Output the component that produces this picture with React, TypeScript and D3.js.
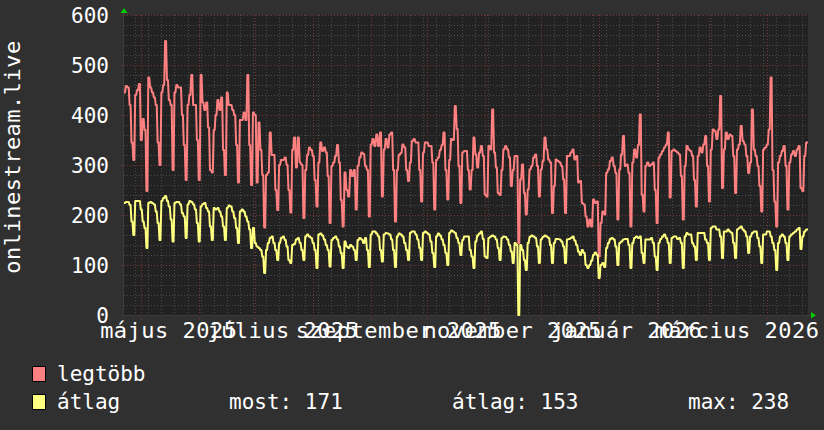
import React from "react";
import * as d3 from "d3";

// ---- data (daily, starting 2025-04-22) ----
const startDate = new Date(Date.UTC(2025, 3, 22));
const endDate = new Date(Date.UTC(2026, 3, 23));

const legtobb = [
  445,458,455,420,345,310,440,
  450,462,350,392,370,248,475,
  455,445,435,420,345,300,445,
  460,548,470,430,420,290,445,
  460,455,455,400,340,270,420,
  440,480,420,420,350,270,480,
  425,410,425,375,290,285,370,
  400,430,410,435,330,280,445,
  420,420,410,400,340,265,390,
  390,405,390,480,340,260,405,
  400,265,385,330,280,175,280,
  285,365,320,320,250,210,300,
  310,310,315,300,250,205,330,
  355,295,355,305,300,194,290,
  320,335,330,318,270,217,305,
  345,328,335,325,278,184,298,
  305,318,340,305,230,177,285,
  250,237,290,278,290,211,298,
  315,325,322,298,290,197,341,
  352,338,361,338,365,237,331,
  352,335,361,365,290,187,290,
  320,324,341,335,290,268,305,
  348,352,345,345,290,227,325,
  345,345,338,338,305,211,310,
  315,330,340,365,290,231,310,
  352,350,418,372,298,224,325,
  328,328,290,251,290,355,321,
  295,325,338,318,241,237,338,
  331,411,325,295,244,240,290,
  331,338,331,315,258,290,318,
  318,144,271,301,244,201,251,
  291,298,315,321,298,237,291,
  308,355,331,311,305,204,258,
  311,308,305,298,271,204,318,
  318,325,331,311,318,265,268,
  224,221,197,177,191,177,231,
  224,227,117,184,207,201,284,
  291,308,315,298,284,191,291,
  321,358,298,301,284,177,305,
  331,315,340,401,241,207,298,
  305,298,301,305,250,184,314,
  321,328,335,341,365,235,328,
  331,328,325,321,278,191,298,
  338,331,328,318,270,217,318,
  335,325,341,358,298,227,331,
  371,368,352,371,438,254,331,
  365,352,361,358,318,244,331,
  341,378,348,341,318,284,305,
  411,331,318,298,258,207,331,
  335,341,371,475,290,227,177,
  305,318,328,338,298,211,305,
  321,328,318,331,338,254,248,
  318,345,
];

const atlag = [
  224,226,226,220,187,160,228,
  228,228,211,187,174,134,224,
  226,224,221,207,184,150,228,
  234,238,228,217,191,147,224,
  226,226,221,204,197,154,221,
  228,226,221,211,184,147,217,
  222,224,214,207,177,150,214,
  211,214,207,197,177,150,214,
  219,217,207,194,174,144,207,
  211,207,197,187,171,134,174,
  144,137,134,130,117,84,130,
  144,154,157,144,130,110,144,
  154,157,150,137,110,104,140,
  142,151,154,144,130,110,157,
  161,157,154,144,130,94,161,
  163,159,151,140,130,97,150,
  154,157,151,137,124,94,147,
  137,134,140,137,130,110,150,
  154,151,144,154,130,96,161,
  167,167,163,157,130,107,161,
  164,163,161,151,130,96,157,
  163,161,157,144,130,110,164,
  167,167,161,151,134,110,164,
  167,164,161,147,124,96,157,
  163,159,151,140,124,100,164,
  169,167,164,154,144,120,150,
  157,157,157,130,117,94,147,
  159,163,167,152,117,114,154,
  157,159,157,151,134,110,154,
  157,156,151,140,127,104,144,
  140,0,140,130,110,90,144,
  156,159,157,154,137,104,151,
  156,159,157,154,140,104,144,
  152,152,151,147,137,104,151,
  152,154,157,149,140,127,120,
  130,124,100,94,100,109,120,
  125,120,74,100,104,96,134,
  144,152,154,151,137,100,144,
  147,151,152,152,140,94,144,
  154,157,154,157,124,104,151,
  151,151,154,144,117,90,144,
  152,157,161,154,144,104,154,
  157,157,152,154,144,94,157,
  164,161,161,144,137,110,164,
  164,164,164,151,144,110,174,
  177,177,171,171,157,114,167,
  167,171,167,164,144,114,171,
  174,177,171,167,157,124,157,
  164,167,167,154,137,104,161,
  161,167,167,157,144,130,90,
  144,157,161,157,144,110,157,
  161,164,167,171,174,132,157,
  167,171,
];

const yTicks = [0, 100, 200, 300, 400, 500, 600];
const monthLabels = ["május 2025", "július 2025", "szeptember 2025", "november 2025", "január 2026", "március 2026"];
const labelMonthStarts = [
  new Date(Date.UTC(2025, 4, 1)),
  new Date(Date.UTC(2025, 6, 1)),
  new Date(Date.UTC(2025, 8, 1)),
  new Date(Date.UTC(2025, 10, 1)),
  new Date(Date.UTC(2026, 0, 1)),
  new Date(Date.UTC(2026, 2, 1)),
];
const seriesNames = ["legtöbb", "átlag"];
const seriesColors = ["#ff8080", "#ffff80"];
const statLabels = ["most: 171", "átlag: 153", "max: 238"];
const axisTitle = "onlinestream.live";

const FONT = "'DejaVu Sans Mono', monospace";

export default function App() {
  const W = 824, H = 430;
  const left = 124, right = 808, top = 15, bottom = 315;

  const x = d3.scaleUtc().domain([startDate, endDate]).range([left, right]);
  const y = d3.scaleLinear().domain([0, 600]).range([bottom, top]);

  // rrdtool-like rendering: flat for the day, ~1px slanted transition to the next day
  const toPts = (vals: number[]) => {
    const pts: [number, number][] = [];
    vals.forEach((v, i) => {
      const x0 = x(d3.utcDay.offset(startDate, i));
      const x1 = x(d3.utcDay.offset(startDate, i + 1));
      pts.push([x0, y(v)]);
      pts.push([i === vals.length - 1 ? x1 : x1 - 0.9, y(v)]);
    });
    return pts;
  };
  const line = d3.line<[number, number]>().x((d) => d[0]).y((d) => d[1]);

  const months = d3.utcMonth.range(d3.utcDay.offset(startDate, 1), endDate);
  const weeks = d3.utcMonday.range(startDate, endDate);
  const minorY = d3.range(0, 601, 20).filter((v) => v % 100 !== 0);

  const px = (v: number) => Math.round(v) + 0.5;

  return (
    <svg
      width={W}
      height={H}
      style={{ position: "absolute", left: 0, top: 0, display: "block" }}
      fontFamily={FONT}
    >
      <rect x={0} y={0} width={W} height={H} fill="#303030" />
      <rect x={left} y={top} width={right - left} height={bottom - top} fill="#222222" />

      {/* minor grid */}
      <g stroke="#4a4a4a" strokeWidth={1} strokeDasharray="1,2" shapeRendering="crispEdges">
        {weeks.map((w, i) => (
          <line key={"w" + i} x1={px(x(w))} x2={px(x(w))} y1={top} y2={bottom + 2} />
        ))}
        {minorY.map((v) => (
          <line key={"h" + v} x1={left} x2={right} y1={px(y(v))} y2={px(y(v))} />
        ))}
      </g>
      {/* major grid */}
      <g stroke="#7a3535" strokeWidth={1} strokeDasharray="1,2" shapeRendering="crispEdges">
        {months.map((m, i) => (
          <line key={"m" + i} x1={px(x(m))} x2={px(x(m))} y1={top} y2={bottom + 4} />
        ))}
        {yTicks.map((v) => (
          <line key={"M" + v} x1={left - 3} x2={right} y1={px(y(v))} y2={px(y(v))} />
        ))}
      </g>

      {/* axes */}
      <line x1={left - 0.5} x2={left - 0.5} y1={top - 3} y2={bottom + 3} stroke="#3c3c3c" />
      <line x1={left - 3} x2={right + 3} y1={bottom + 0.5} y2={bottom + 0.5} stroke="#3c3c3c" />
      <path d={`M${left - 3.5},13 L${left + 3.5},13 L${left},8 Z`} fill="#00cc00" />
      <path d={`M${right + 3},312 L${right + 3},318.5 L${right + 8},315.2 Z`} fill="#00cc00" />

      {/* series */}
      <path d={line(toPts(legtobb)) || ""} fill="none" stroke={seriesColors[0]} strokeWidth={2} strokeLinejoin="round" />
      <path d={line(toPts(atlag)) || ""} fill="none" stroke={seriesColors[1]} strokeWidth={2} strokeLinejoin="round" />

      {/* y tick labels */}
      <g fill="#ffffff" fontSize={21} textAnchor="end">
        {yTicks.map((v) => (
          <text key={"yl" + v} x={109} y={y(v) + 7.5}>
            {v}
          </text>
        ))}
      </g>

      {/* x labels */}
      <g fill="#ffffff" fontSize={22} letterSpacing={0.5} textAnchor="middle">
        {monthLabels.map((t, i) => (
          <text key={"xl" + i} x={x(d3.utcDay.offset(labelMonthStarts[i], 15))} y={338}>
            {t}
          </text>
        ))}
      </g>

      {/* y title */}
      <text
        transform={`translate(20,157) rotate(-90)`}
        textAnchor="middle"
        fill="#ffffff"
        fontSize={22}
        letterSpacing={0.5}
      >
        {axisTitle}
      </text>

      {/* legend */}
      <g fontSize={21} fill="#ffffff">
        <rect x={32.5} y={366.5} width={13} height={15} fill={seriesColors[0]} stroke="#000" />
        <text x={57} y={381}>{seriesNames[0]}</text>
        <rect x={32.5} y={394.5} width={13} height={15} fill={seriesColors[1]} stroke="#000" />
        <text x={57} y={409}>{seriesNames[1]}</text>
        <text x={229} y={409}>{statLabels[0]}</text>
        <text x={452} y={409}>{statLabels[1]}</text>
        <text x={688} y={409}>{statLabels[2]}</text>
      </g>
    </svg>
  );
}
